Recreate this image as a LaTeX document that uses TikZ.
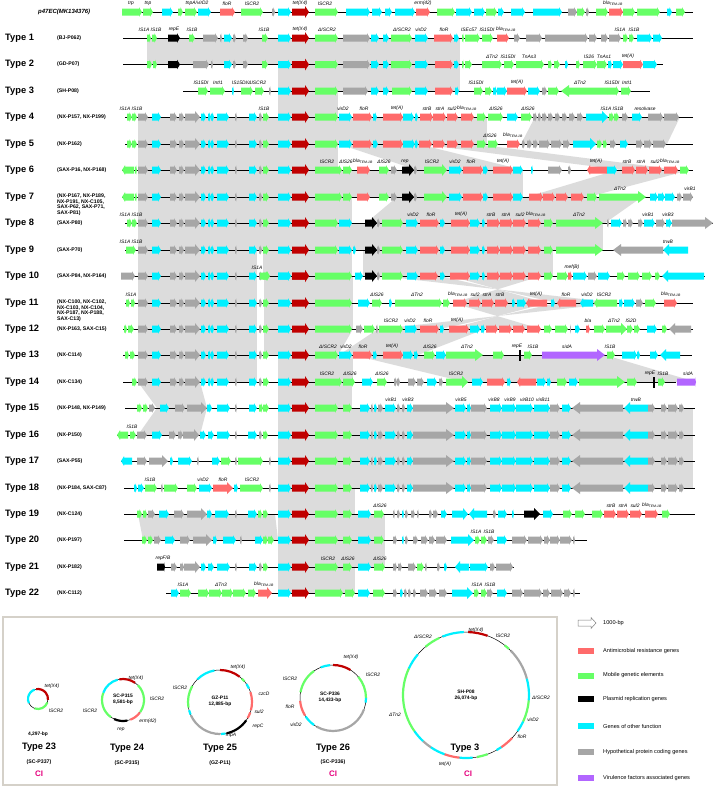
\documentclass[tikz,border=0pt]{standalone}
\usepackage{fontspec}
\setmainfont{Liberation Sans}
\definecolor{cA}{HTML}{FF6B6B}
\definecolor{cM}{HTML}{66FF66}
\definecolor{cO}{HTML}{00F0FF}
\definecolor{cH}{HTML}{A6A6A6}
\definecolor{cT}{HTML}{C00000}
\definecolor{cV}{HTML}{B266FF}
\definecolor{shd}{HTML}{DCDCDC}
\definecolor{cCI}{HTML}{E6007E}
\definecolor{frm}{HTML}{D5D1C9}
\def\ry{0}
\newcommand\setrow[1]{\def\ry{#1}}
\newcommand\gene[4][3]{%
  \pgfmathsetmacro\gd{ifthenelse(#4>#3,1,-1)}%
  \pgfmathsetmacro\gt{\gd*min(#1,abs(#4-#3)*0.5)}%
  \pgfmathsetmacro\gh{ifthenelse(#1>3,6,4.8)}%
  \fill[#2] (#3,\ry-3.5) -- ({#4-\gt},\ry-3.5) -- ({#4-\gt},\ry-\gh) -- (#4,\ry) -- ({#4-\gt},\ry+\gh) -- ({#4-\gt},\ry+3.5) -- (#3,\ry+3.5) -- cycle;}
\newcommand\gA[3][3]{\gene[#1]{cA}{#2}{#3}}
\newcommand\gM[3][3]{\gene[#1]{cM}{#2}{#3}}
\newcommand\gO[3][3]{\gene[#1]{cO}{#2}{#3}}
\newcommand\gH[3][3]{\gene[#1]{cH}{#2}{#3}}
\newcommand\gK[3][3]{\gene[#1]{black}{#2}{#3}}
\newcommand\gT[3][3]{\gene[#1]{cT}{#2}{#3}}
\newcommand\gV[3][3]{\gene[#1]{cV}{#2}{#3}}
\newcommand\vbarx[1]{\fill[black] (#1,\ry-5.5) rectangle ({#1+1.5},\ry+5.5);}
\newcommand\rl[2]{\draw[rowline] (#1,\ry) -- (#2,\ry);}
\newcommand\lb[2]{\node[lbl] at (#1,\ry-6) {#2};}
\newcommand\bla{bla\textsubscript{TEM-1B}}
\newcommand\sh[6]{\fill[shd] (#3,#1) -- (#4,#1) -- (#5,#2) -- (#6,#2) -- cycle;}
\newcommand\typ[3]{\node[tyl] at (5,#1) {Type #2}; \node[accl] at (57,#1) {#3};}
\newcommand\core{\gO{278}{291}\gT[4]{292}{309}}
\newcommand\bb{\gH{138}{148}\gO{152}{161}\gH{170}{177}\gH{179}{184}\gH[5]{185}{200}\gO{201}{206}\gO{208}{211}\gO{211}{214}\gO{217}{229}\gH{235}{237}\gO{249}{257}\gH{259}{262}\gM{263}{269}\core}
\newcommand\vb{\gM{343}{352}\gO{360}{370}\gH{371}{373}\gO{374}{377}\gH{378}{383}\gO{385}{396}\gH{397}{400}\gH{402}{405}\gO{407}{413}\gH[8]{413}{454}\gO{455}{466}\gO{467}{471}\gH{471}{487}\gO{490}{502}\gO{502}{516}\gO{516}{533}\gO{534}{550}\gH{550}{560}\gO{562}{571}\gH[8]{623}{572}\gO[6]{648}{624}\gH{648}{655}\gH{661}{667}\gH{668}{678}\gH{679}{684}}
\newcommand\carc[6]{\draw[#6, line width=2.2] ({#1+#3*cos(#4)},{#2-#3*sin(#4)}) arc[start angle=-#4, end angle=-#5, radius=#3];}
\tikzset{
  rowline/.style={line width=0.8, black},
  lbl/.style={anchor=south, inner sep=0, font=\fontsize{4.9}{5}\selectfont\itshape},
  clbl/.style={inner sep=0, font=\fontsize{4.9}{5}\selectfont\itshape},
  tyl/.style={anchor=west, inner sep=0, font=\fontsize{9.3}{10}\selectfont\bfseries},
  accl/.style={anchor=west, inner sep=0, font=\fontsize{5.2}{6}\selectfont\bfseries},
  accm/.style={anchor=north west, inner sep=0, align=left, font=\fontsize{5.2}{5.6}\selectfont\bfseries},
  ctxt/.style={inner sep=0, align=center, font=\fontsize{4.9}{5.8}\selectfont\bfseries},
  ctyp/.style={inner sep=0, font=\fontsize{9.3}{10}\selectfont\bfseries},
  cacc/.style={inner sep=0, font=\fontsize{5.2}{6}\selectfont\bfseries},
  cci/.style={inner sep=0, text=cCI, font=\fontsize{8}{9}\selectfont\bfseries},
  legt/.style={anchor=west, inner sep=0, font=\fontsize{5.6}{6}\selectfont},
}
\begin{document}
\begin{tikzpicture}[x=1pt,y=-1pt]
\useasboundingbox (0,0) rectangle (713,787);
\fill[white] (0,0) rectangle (713,787);
% ---------- shading ----------
\sh{38}{64.5}{147}{460}{460}{147}
\sh{64.5}{91}{278}{460}{460}{278}
\sh{91}{117}{278}{338}{338}{278}
\sh{117}{144}{138}{487}{487}{138}
\sh{117}{144}{535}{680}{667}{521}
\sh{144}{170}{138}{338}{338}{138}
\sh{144}{170}{339}{418}{523}{417}
\sh{144}{170}{419}{474}{680}{622}
\sh{170}{197}{138}{523}{523}{138}
\sh{170}{197}{617}{690}{588}{527}
\sh{197}{223}{138}{352}{352}{138}
\sh{197}{223}{397}{642}{605}{366}
\sh{223}{250}{138}{603}{603}{138}
\sh{250}{276}{138}{257}{257}{138}
\sh{250}{276}{263}{352}{352}{263}
\sh{250}{276}{363}{553}{553}{363}
\sh{276}{303}{138}{257}{257}{138}
\sh{276}{303}{264}{353}{353}{264}
\fill[shd] (381,276) -- (440,276) -- (557,303) -- (617,303) -- cycle;
\fill[shd] (450,276) -- (541,276) -- (453,303) -- (547,303) -- cycle;
\sh{303}{329}{138}{257}{257}{138}
\sh{303}{329}{264}{353}{353}{264}
\fill[shd] (453,303) -- (547,303) -- (449,329) -- (541,329) -- cycle;
\fill[shd] (557,303) -- (617,303) -- (379,329) -- (440,329) -- cycle;
\sh{329}{355}{138}{257}{257}{138}
\sh{329}{355}{264}{353}{338}{264}
\sh{329}{355}{378}{485}{418}{339}
\sh{355}{382}{138}{257}{257}{138}
\sh{355}{382}{278}{353}{353}{278}
\sh{355}{382}{353}{605}{696}{465}
\sh{382}{408}{138}{200}{207}{157}
\sh{382}{408}{278}{352}{352}{278}
\sh{408}{435}{157}{207}{200}{138}
\sh{408}{435}{278}{693}{693}{278}
\sh{435}{461}{278}{693}{693}{278}
\sh{461}{488}{278}{693}{693}{278}
\sh{488}{514}{278}{355}{355}{278}
\sh{514}{540}{138}{275}{278}{143}
\sh{514}{540}{278}{385}{385}{278}
\sh{540}{567}{278}{385}{385}{278}
\sh{567}{593}{278}{355}{355}{278}
% ---------- row 0 : p47EC ----------
\node[anchor=west, inner sep=0, font=\fontsize{6}{7}\selectfont\bfseries\itshape] (p47) at (38,12) {p47EC(MK134376)};
\setrow{12}\rl{122}{693}
\gM{122}{142}\gM{143}{153}\gO{162}{173}\gM{178}{183}\gM{185}{197}\gO{198}{211}\gA{220}{235}\gM{241}{263}\gH{272}{275}\core\gM{315}{338}\gO{346}{370}\gO{372}{382}\gO{385}{392}\gO{395}{415}\gA{416}{430}\gM{437}{455}\gO{456}{472}\gO{474}{485}\gM{486}{497}\gO{498}{504}\gO{511}{525}\gO{533}{562}\gH{568}{577}\gM{577}{585}\gH{586}{589}\gM{596}{608}\gA{609}{623}\gM{623}{635}\gM{637}{660}\gO{667}{672}\gM{676}{685}
\lb{131}{trp}\lb{148}{tnp}\lb{197}{tnpA/virD2}\lb{227}{floR}\lb{252}{ISCR2}\lb{300}{tet(X4)}\lb{325}{ISCR2}\lb{423}{erm(42)}\lb{613}{\bla}
% ---------- row 1 ----------
\typ{38}{1}{(BJ-P062)}
\setrow{38}\rl{123}{693}
\gM{147}{151}\gM{152}{157}\gK{168}{180}\gM{189}{195}\gH{203}{218}\gH{220}{222}\gO{224}{232}\gH{233}{236}\gH{243}{248}\gM{262}{268}\core\gM{315}{338}\gH{343}{370}\gO{371}{379}\gO{383}{389}\gM{391}{412}\gO{415}{428}\gA{434}{453}\gO{454}{459}\gM{462}{464}\gM{465}{480}\gM{482}{493}\gA{497}{509}\gH{514}{520}\gH{526}{542}\gH{545}{588}\gH{589}{597}\gH{601}{608}\gH{609}{621}\gM{623}{628}\gM{629}{634}\gO{637}{652}\gO{653}{662}
\lb{144}{IS1A}\lb{156}{IS1B}\lb{174}{repE}\lb{192}{IS1B}\lb{264}{IS1B}\lb{300}{tet(X4)}\lb{327}{ΔISCR2}\lb{402}{ΔISCR2}\lb{421}{virD2}\lb{444}{floR}\lb{469}{ISEc57}\lb{487}{IS15DI}\lb{506}{\bla}\lb{620}{IS1A}\lb{634}{IS1B}
% ---------- row 2 ----------
\typ{64.5}{2}{(GD-P07)}
\setrow{64.5}\rl{123}{663}
\gM{147}{152}\gM{153}{157}\gK{168}{180}\gH{193}{209}\gH{211}{213}\gO{224}{232}\gH{233}{236}\gH{243}{248}\gM{262}{268}\core\gM{315}{338}\gH{343}{370}\gO{371}{379}\gO{383}{389}\gM{391}{412}\gO{415}{428}\gA{435}{453}\gO{454}{459}\gM{462}{464}\gM{465}{472}\gM{482}{502}\gM{504}{514}\gM{516}{544}\gM{548}{552}\gM{554}{560}\gO{565}{568}\gM{576}{580}\gM{583}{597}\gM{597}{607}\gO{608}{612}\gO{613}{623}\gA{623}{643}\gO{643}{657}
\lb{492}{ΔTn2}\lb{508}{IS15DI}\lb{529}{TnAs3}\lb{589}{IS26}\lb{604}{TnAs1}\lb{628}{tet(A)}
% ---------- row 3 ----------
\typ{91}{3}{(SH-P08)}
\setrow{91}\rl{183}{650}
\gM{198}{208}\gM{210}{225}\gO{232}{234}\gM{241}{253}\gM{255}{264}\gH{269}{271}\core\gM{315}{338}\gH{343}{368}\gO{371}{379}\gO{383}{389}\gM{392}{412}\gO{415}{428}\gA{435}{453}\gO{455}{459}\gM{474}{483}\gM{485}{492}\gO{493}{497}\gO{497}{507}\gA{507}{527}\gO{528}{540}\gH{542}{547}\gM{548}{559}\gM[8]{607}{561}\gM{607}{619}\gM{621}{631}
\lb{201}{IS15DI}\lb{218}{IntI1}\lb{249}{IS15DI/ΔISCR2}\lb{476}{IS15DI}\lb{517}{tet(A)}\lb{580}{ΔTn2}\lb{612}{IS15DI}\lb{627}{IntI1}
% ---------- row 4 ----------
\typ{117}{4}{(NX-P157, NX-P199)}
\setrow{117}\rl{125}{693}
\gM{127}{132}\gM{132}{137}\bb\gM{315}{338}\gO{339}{352}\gA{353}{372}\gO{373}{377}\gA{383}{403}\gO{403}{414}\gO{415}{418}\gA{420}{433}\gA{433}{446}\gA{447}{458}\gA{461}{474}\gM{477}{486}\gM{488}{503}\gO{507}{518}\gM{521}{532}\gH{533}{537}\gH{538}{541}\gH{542}{547}\gH{548}{553}\gH{555}{560}\gH{562}{567}\gH{569}{575}\gH{577}{583}\gO[6]{586}{608}\gM{609}{614}\gM{614}{619}\gH{622}{628}\gO{632}{642}\gH{648}{663}\gH{664}{679}
\lb{131}{IS1A IS1B}\lb{264}{IS1B}\lb{343}{virD2}\lb{364}{floR}\lb{397}{tet(A)}\lb{427}{strB}\lb{440}{strA}\lb{452}{sul2}\lb{467}{\bla}\lb{496}{ΔIS26}\lb{528}{ΔIS26}\lb{612}{IS1A IS1B}\lb{645}{resolvase}
% ---------- row 5 ----------
\typ{144}{5}{(NX-P162)}
\setrow{144}\rl{125}{693}
\gM{127}{132}\gM{132}{137}\bb\gM{315}{338}\gO{339}{352}\gA{353}{372}\gO{373}{378}\gA{383}{403}\gO{403}{415}\gO{415}{418}\gA{419}{432}\gA{433}{445}\gA{447}{458}\gA{461}{474}\gM{477}{486}\gM{488}{498}\gA{507}{520}\gH{522}{525}\gH{527}{532}\gH{533}{538}\gH{539}{550}\gH{551}{562}\gH{563}{570}\gO[6]{573}{596}\gM{597}{602}\gM{603}{607}\gH{610}{616}\gO{620}{628}\gH{636}{643}\gH{644}{652}\gH{653}{666}
\lb{490}{ΔIS26}\lb{513}{\bla}
% ---------- row 6 ----------
\typ{170}{6}{(SAX-P16, NX-P168)}
\setrow{170}\rl{122}{693}
\gM{134}{122}\gM{135}{137}\bb\gM{315}{342}\gM{343}{352}\gA{357}{370}\gM{379}{389}\gH{391}{397}\gK[5]{402}{414}\gH{414}{417}\gM[5]{424}{447}\gO{449}{462}\gA{463}{483}\gO{483}{488}\gA{493}{513}\gO{513}{523}\gO{531}{533}\gH{548}{562}\gH{568}{571}\gA{607}{587}\gO{607}{617}\gA{622}{635}\gA{636}{648}\gA{649}{662}\gA{664}{678}\gM{680}{689}
\lb{327}{ISCR2}\lb{346}{ΔIS26}\lb{363}{\bla}\lb{384}{ΔIS26}\lb{405}{rep}\lb{432}{ISCR2}\lb{455}{virD2}\lb{471}{floR}\lb{503}{tet(A)}\lb{596}{tet(A)}\lb{627}{strB}\lb{641}{strA}\lb{655}{sul2}\lb{670}{\bla}
% ---------- row 7 ----------
\node[tyl] at (5,197) {Type 7};
\node[accm] at (57,193.5) {(NX-P167, NX-P189,\\NX-P191, NX-C105,\\SAX-P62, SAX-P71,\\SAX-P81)};
\setrow{197}\rl{122}{693}
\gM{134}{122}\gM{135}{137}\bb\gM{315}{342}\gM{343}{352}\gA{357}{370}\gM{379}{389}\gH{391}{397}\gK[5]{402}{414}\gH{414}{417}\gM[5]{424}{447}\gO{449}{462}\gA{463}{483}\gO{483}{488}\gA{493}{513}\gO{513}{523}\gA{529}{543}\gA{543}{555}\gA{556}{568}\gA{571}{584}\gM{587}{597}\gM[8]{599}{646}\gO{650}{658}\gO{658}{665}\gO{665}{675}\gH{677}{682}\gH{683}{693}
\lb{620}{ΔTn2}\lb{690}{virB1}
% ---------- row 8 ----------
\typ{223}{8}{(SAX-P80)}
\setrow{223}\rl{125}{713}
\gM{127}{132}\gM{132}{137}\bb\gM{315}{338}\gO{339}{352}\gK[5]{365}{377}\gH{377}{380}\gM{382}{403}\gO{406}{418}\gA{420}{439}\gO{440}{445}\gA{451}{470}\gO{470}{480}\gO{482}{485}\gA{487}{500}\gA{500}{513}\gA{513}{526}\gA{528}{541}\gM{544}{553}\gM[8]{556}{603}\gH{607}{609}\gO{611}{622}\gH{623}{627}\gH{628}{633}\gH{638}{643}\gO{644}{655}\gH{656}{665}\gO{666}{672}\gH[8]{672}{713}
\lb{131}{IS1A IS1B}\lb{413}{virD2}\lb{431}{floR}\lb{461}{tet(A)}\lb{491}{strB}\lb{506}{strA}\lb{520}{sul2}\lb{536}{\bla}\lb{579}{ΔTn2}\lb{648}{virB1}\lb{668}{virB3}
% ---------- row 9 ----------
\typ{250}{9}{(SAX-P70)}
\setrow{250}\rl{125}{688}
\gM{126}{136}\bb\gM{315}{338}\gO{339}{352}\gO{353}{356}\gK[5]{365}{377}\gH{377}{380}\gM{382}{403}\gO{406}{418}\gA{420}{439}\gO{440}{445}\gA{451}{470}\gO{470}{480}\gO{482}{485}\gA{487}{500}\gA{500}{513}\gA{513}{526}\gA{528}{541}\gM{544}{553}\gM[8]{556}{603}\gH[8]{663}{613}\gO[6]{688}{663}
\lb{131}{IS1A IS1B}\lb{668}{trwB}
% ---------- row 10 ----------
\typ{276}{10}{(SAX-P84, NX-P164)}
\setrow{276}\rl{121}{705}
\gH{121}{135}\bb\gM{260}{270}\core\gM{315}{352}\gO{355}{363}\gK[5]{365}{377}\gH{377}{380}\gM{382}{403}\gO{407}{418}\gA{420}{438}\gO{440}{445}\gA{450}{470}\gO{470}{480}\gO{482}{485}\gA{487}{500}\gA{500}{513}\gA{513}{526}\gA{528}{541}\gM{544}{553}\gM{557}{568}\gA{568}{572}\gO{573}{587}\gH{588}{597}\gO{598}{610}\gM{617}{625}\gM{628}{640}\gM{642}{652}\gM{655}{660}\gO[6]{704}{662}
\lb{257}{IS1A}\lb{572}{mef(B)}
% ---------- row 11 ----------
\node[tyl] at (5,303) {Type 11};
\node[accm] at (57,299.5) {(NX-C100, NX-C102,\\NX-C103, NX-C104,\\NX-P187, NX-P188,\\SAX-C13)};
\setrow{303}\rl{125}{693}
\gM{126}{130}\gM{131}{135}\bb\gM{315}{352}\gO{358}{370}\gM{372}{382}\gO{389}{392}\gM{395}{442}\gM{443}{450}\gA{453}{467}\gA{469}{481}\gA{482}{494}\gA{495}{508}\gO{512}{515}\gO{517}{526}\gA{547}{526}\gO{551}{555}\gA{576}{557}\gO{593}{580}\gM{617}{594}\gO{619}{623}\gO{624}{635}\gH{636}{643}\gM{645}{656}\gA{664}{677}
\lb{131}{IS1A}\lb{377}{ΔIS26}\lb{417}{ΔTn2}\lb{458}{\bla}\lb{475}{sul2}\lb{487}{strA}\lb{500}{strB}\lb{536}{tet(A)}\lb{566}{floR}\lb{587}{virD2}\lb{604}{ISCR2}\lb{671}{\bla}
% ---------- row 12 ----------
\typ{329}{12}{(NX-P163, SAX-C15)}
\setrow{329}\rl{123}{693}
\gM{124}{127}\gM{128}{134}\bb\gM{315}{352}\gH{356}{363}\gM{364}{375}\gH{376}{378}\gM{379}{403}\gO{405}{417}\gA{420}{439}\gO{440}{444}\gA{449}{469}\gO{470}{480}\gO{481}{485}\gA{486}{498}\gA{499}{512}\gA{513}{525}\gA{527}{541}\gM{544}{552}\gM{555}{568}\gH{570}{571}\gO{575}{580}\gA{586}{590}\gM{594}{605}\gM[6]{606}{627}\gM{627}{633}\gM{634}{640}\gO{647}{657}\gM{662}{667}\gH[6]{691}{669}
\lb{391}{ISCR2}\lb{410}{virD2}\lb{428}{floR}\lb{457}{tet(A)}\lb{588}{bla}\lb{614}{ΔTn2}\lb{631}{IS2D}
% ---------- row 13 ----------
\typ{355}{13}{(NX-C114)}
\setrow{355}\rl{123}{692}
\gM{125}{129}\gM{130}{135}\bb\gM{315}{338}\gO{339}{352}\gA{353}{372}\gO{373}{377}\gA{383}{403}\gO{403}{413}\gO{414}{418}\gM{424}{435}\gO{436}{446}\gM[8]{446}{483}\gM{493}{504}\vbarx{519}\gM{524}{532}\gV[8]{542}{605}\gM{607}{615}\gO{622}{637}\gO{637}{640}\gO{650}{658}\gO[6]{680}{660}
\lb{328}{ΔISCR2}\lb{346}{virD2}\lb{363}{floR}\lb{392}{tet(A)}\lb{430}{ΔIS26}\lb{467}{ΔTn2}\lb{517}{repE}\lb{533}{IS1B}\lb{567}{sidA}\lb{610}{IS1B}
% ---------- row 14 ----------
\typ{382}{14}{(NX-C134)}
\setrow{382}\rl{123}{676}
\gM{132}{137}\bb\gM{315}{342}\gM{343}{355}\gO{362}{373}\gM{377}{387}\gH{394}{397}\gH{397}{400}\gH{408}{416}\gH{417}{424}\gO{427}{437}\gH{439}{443}\gM[6]{446}{468}\gO{472}{483}\gA{487}{505}\gO{507}{511}\gA{536}{517}\gO{537}{546}\gO{547}{551}\gM{557}{567}\gO{569}{578}\gM[8]{579}{625}\gM{627}{637}\vbarx{653}\gM{658}{665}\gV[1]{677}{696}
\lb{327}{ISCR2}\lb{350}{ΔIS26}\lb{382}{ΔIS26}\lb{456}{ISCR2}\lb{650}{repE}\lb{663}{IS1B}\lb{688}{sidA}
% ---------- row 15 ----------
\typ{408}{15}{(NX-P148, NX-P149)}
\setrow{408}\rl{125}{695}
\gM{137}{142}\gM{143}{148}\gH{149}{155}\gO{160}{169}\gH{175}{185}\gH[6]{187}{207}\gO{207}{212}\gO{217}{230}\gH{235}{237}\gO{249}{257}\gM{259}{263}\gM{263}{269}\core\gM{315}{338}\vb
\lb{391}{virB1}\lb{408}{virB3}\lb{461}{virB5}\lb{494}{virB8}\lb{510}{virB9}\lb{527}{virB10}\lb{543}{virB11}\lb{636}{trwB}
% ---------- row 16 ----------
\typ{435}{16}{(NX-P150)}
\setrow{435}\rl{117}{695}
\gM{128}{117}\gM{130}{136}\gH{137}{147}\gO{152}{162}\gH{169}{176}\gH{178}{183}\gH[5]{183}{199}\gO{200}{206}\gO{208}{214}\gO{217}{230}\gH{235}{237}\gO{248}{257}\gH{259}{262}\gM{263}{268}\core\gM{315}{338}\vb
\lb{132}{IS1B}
% ---------- row 17 ----------
\typ{461}{17}{(SAX-P55)}
\setrow{461}\rl{121}{695}
\gO{132}{121}\gH{137}{147}\gH[6]{149}{168}\gO{170}{173}\gO{178}{192}\gH{197}{199}\gO{212}{220}\gM{221}{231}\gH{235}{237}\gM{238}{263}\gH{269}{271}\core\gM{315}{338}\vb
% ---------- row 18 ----------
\typ{488}{18}{(NX-P184, SAX-C87)}
\setrow{488}\rl{124}{695}
\gO{134}{137}\gO{138}{144}\gM{145}{157}\gH{161}{163}\gM{164}{178}\gM{187}{197}\gO{199}{212}\gA[6]{213}{233}\gO{234}{238}\gM{240}{263}\gH{269}{271}\core\gM{315}{338}\vb
\lb{150}{IS1B}\lb{203}{virD2}\lb{223}{floR}\lb{252}{ISCR2}
% ---------- row 19 ----------
\typ{514}{19}{(NX-C124)}
\setrow{514}\rl{124}{695}
\gM{137}{142}\gM{143}{147}\gH{148}{155}\gO{159}{169}\gH{174}{184}\gH[6]{187}{207}\gO{207}{212}\gO{215}{229}\gH{235}{237}\gO{248}{257}\gM{258}{262}\gM{263}{268}\core\gM{315}{338}\gM{343}{352}\gO{358}{371}\gM{374}{384}\gH{393}{395}\gH{397}{400}\gO{402}{404}\gH{405}{408}\gH{411}{415}\gH{417}{419}\gH{429}{432}\gH{433}{438}\gO{441}{447}\gO[5]{452}{468}\gO[5]{487}{469}\gH{493}{496}\gO{498}{507}\gO{512}{514}\gK[6]{524}{540}\gO{543}{553}\gM{563}{572}\gM{575}{585}\gM{592}{603}\gA{604}{616}\gA{617}{629}\gA{630}{642}\gA{645}{658}\gM{662}{670}
\lb{380}{ΔIS26}\lb{611}{strB}\lb{623}{strA}\lb{635}{sul2}\lb{652}{\bla}
% ---------- row 20 ----------
\typ{540}{20}{(NX-P197)}
\setrow{540}\rl{124}{587}
\gM{142}{147}\gM{148}{153}\gH{154}{161}\gO{165}{175}\gH{180}{190}\gH[6]{193}{212}\gO{213}{217}\gO{223}{236}\gH{240}{242}\gO{255}{263}\gM{263}{268}\gM{268}{274}\core\gM{315}{338}\gM{343}{352}\gO{358}{371}\gM{374}{384}\gH{393}{397}\gO{402}{404}\gH{405}{408}\gH{413}{418}\gH{421}{428}\gH{429}{435}\gH{436}{447}\gO[6]{451}{474}\gM{475}{480}\gM{481}{487}\gH{488}{494}\gO{497}{507}\gH{512}{527}\gH{528}{543}\gH{544}{550}\gH{550}{560}\gH{560}{572}\gH{573}{575}
\lb{476}{IS1A}\lb{489}{IS1B}
% ---------- row 21 ----------
\typ{567}{21}{(NX-P182)}
\setrow{567}\rl{157}{514}
\gK[1]{157}{165}\gH{171}{177}\gH{180}{184}\gH[5]{184}{200}\gO{201}{206}\gO{208}{214}\gO{217}{230}\gH{235}{237}\gO{249}{257}\gH{259}{262}\gM{263}{268}\core\gM{315}{338}\gM{343}{352}\gO{358}{371}\gM{374}{385}\gH{393}{397}\gH{398}{402}\gH{408}{416}\gM{417}{424}\gH{425}{427}\gH{437}{440}\gO{444}{447}\gO[5]{469}{455}\gO{470}{488}\gH{490}{495}\gH{496}{513}
\lb{163}{repF/B}\lb{328}{ISCR2}\lb{348}{ΔIS26}\lb{380}{ΔIS26}
% ---------- row 22 ----------
\typ{593}{22}{(NX-C112)}
\setrow{593}\rl{166}{580}
\gO{171}{179}\gM{180}{191}\gM{198}{209}\gM{209}{222}\gM{222}{233}\gM{233}{246}\gM{248}{256}\gA[5]{258}{272}\core\gM{315}{343}\gM{345}{355}\gO{358}{370}\gM{373}{385}\gH{393}{397}\gO{400}{403}\gH{404}{407}\gH{408}{411}\gH{413}{416}\gH{420}{428}\gH{429}{437}\gH{439}{447}\gO[6]{452}{473}\gM{474}{479}\gM{481}{487}\gH{487}{493}\gO{497}{507}\gH{512}{523}\gH{524}{542}\gH{543}{550}\gH{551}{563}\gH{564}{571}\gH{573}{575}
\lb{183}{IS1A}\lb{221}{ΔTn3}\lb{264}{\bla}\lb{477}{IS1A}\lb{490}{IS1B}
% ---------- bottom panel ----------
\draw[frm, line width=1.8] (3,617) rectangle (557,785);
% Type 23
\draw[line width=0.5] (38,699) circle[radius=10];
\carc{38}{699}{10}{100}{-5}{cT}
\carc{38}{699}{10}{110}{205}{cO}
\carc{38}{699}{10}{-20}{-110}{cM}
\node[clbl] at (52,686) {tet(X4)};
\node[clbl] at (56,711) {ISCR2};
\node[ctxt] at (38,734) {4,297-bp};
\node[ctyp] at (39,747) {Type 23};
\node[cacc] at (39,762) {(SC-P337)};
\node[cci] at (39,774) {CI};
% Type 24
\draw[line width=0.5] (123,700) circle[radius=21];
\carc{123}{700}{21}{105}{160}{cO}
\carc{123}{700}{21}{55}{100}{cT}
\carc{123}{700}{21}{-35}{45}{cM}
\carc{123}{700}{21}{-70}{-37}{cA}
\carc{123}{700}{21}{-115}{-78}{black}
\carc{123}{700}{21}{160}{235}{cM}
\node[ctxt] at (123,699) {SC-P315\\8,581-bp};
\node[clbl] at (136,678) {tet(X4)};
\node[clbl] at (157,699) {ISCR2};
\node[clbl] at (90,711) {ISCR2};
\node[clbl] at (148,721) {erm(42)};
\node[clbl] at (121,730) {rep};
\node[ctyp] at (127,748) {Type 24};
\node[cacc] at (127,763) {(SC-P315)};
% Type 25
\draw[line width=0.5] (220,702) circle[radius=32];
\carc{220}{702}{32}{100}{135}{cO}
\carc{220}{702}{32}{52}{90}{cT}
\carc{220}{702}{32}{40}{47}{cM}
\carc{220}{702}{32}{25}{34}{cO}
\carc{220}{702}{32}{18}{-15}{cA}
\carc{220}{702}{32}{-19}{-30}{cA}
\carc{220}{702}{32}{-35}{-78}{black}
\carc{220}{702}{32}{-80}{-88}{cO}
\carc{220}{702}{32}{-90}{-155}{cH}
\carc{220}{702}{32}{195}{203}{cO}
\carc{220}{702}{32}{150}{190}{cM}
\node[ctxt] at (220,701) {GZ-P11\\12,885-bp};
\node[clbl] at (238,667) {tet(X4)};
\node[clbl] at (180,688) {ISCR2};
\node[clbl] at (264,694) {czcD};
\node[clbl] at (259,712) {sul2};
\node[clbl] at (258,726) {repC};
\node[clbl] at (231,735) {mpA};
\node[ctyp] at (220,748) {Type 25};
\node[cacc] at (220,763) {(GZ-P11)};
% Type 26
\draw[line width=0.5] (333,698) circle[radius=33];
\carc{333}{698}{33}{95}{112}{cO}
\carc{333}{698}{33}{58}{90}{cT}
\carc{333}{698}{33}{0}{40}{cM}
\carc{333}{698}{33}{-8}{0}{cO}
\carc{333}{698}{33}{-20}{-120}{cH}
\carc{333}{698}{33}{125}{170}{cM}
\carc{333}{698}{33}{185}{212}{cA}
\carc{333}{698}{33}{214}{235}{cO}
\node[ctxt] at (330,697) {SC-P336\\14,433-bp};
\node[clbl] at (351,657) {tet(X4)};
\node[clbl] at (290,679) {ISCR2};
\node[clbl] at (373,675) {ISCR2};
\node[clbl] at (290,707) {floR};
\node[clbl] at (296,725) {virD2};
\node[ctyp] at (333,748) {Type 26};
\node[cacc] at (333,762) {(SC-P336)};
\node[cci] at (333,774) {CI};
% Type 3 circle
\draw[line width=0.5] (466,695) circle[radius=63];
\carc{466}{695}{63}{88}{70}{cT}
\carc{466}{695}{63}{52}{47}{cM}
\carc{466}{695}{63}{45}{15}{cH}
\carc{466}{695}{63}{15}{-5}{cO}
\carc{466}{695}{63}{-5}{-25}{cM}
\carc{466}{695}{63}{-25}{-35}{cO}
\carc{466}{695}{63}{-43}{-56}{cA}
\carc{466}{695}{63}{-56}{-61}{cO}
\carc{466}{695}{63}{-70}{-80}{cM}
\carc{466}{695}{63}{-84}{-96}{cO}
\carc{466}{695}{63}{-96}{-110}{cA}
\carc{466}{695}{63}{-110}{-124}{cO}
\carc{466}{695}{63}{-124}{-133}{cH}
\carc{466}{695}{63}{-133}{-145}{cO}
\carc{466}{695}{63}{-145}{-205}{cM}
\carc{466}{695}{63}{155}{140}{cO}
\carc{466}{695}{63}{130}{115}{cM}
\carc{466}{695}{63}{112}{92}{cO}
\node[ctxt] at (466,695) {SH-P08\\26,074-bp};
\node[clbl] at (476,630) {tet(X4)};
\node[clbl] at (423,637) {ΔISCR2};
\node[clbl] at (503,636) {ISCR2};
\node[clbl] at (541,698) {ΔISCR2};
\node[clbl] at (533,720) {virD2};
\node[clbl] at (522,737) {floR};
\node[clbl] at (445,764) {tet(A)};
\node[clbl] at (395,715) {ΔTn2};
\node[ctyp] at (465,748) {Type 3};
\node[cci] at (468,774) {CI};
% ---------- legend ----------
\draw[gray, line width=0.5, fill=white] (578,620) -- (591,620) -- (591,617.5) -- (596,623) -- (591,628.5) -- (591,626) -- (578,626) -- cycle;
\node[legt] at (603,623) {1000-bp};
\fill[cA] (578,648) rectangle (594,654); \node[legt] at (603,651) {Antimicrobial resistance genes};
\fill[cM] (578,672.5) rectangle (594,678.5); \node[legt] at (603,675.5) {Mobile genetic elements};
\fill[black] (578,696) rectangle (594,702); \node[legt] at (603,699) {Plasmid replication genes};
\fill[cO] (578,723) rectangle (594,729); \node[legt] at (603,726) {Genes of other function};
\fill[cH] (578,749) rectangle (594,755); \node[legt] at (603,752) {Hypothetical protein coding genes};
\fill[cV] (578,775) rectangle (594,781); \node[legt] at (603,778) {Virulence factors associated genes};
\end{tikzpicture}
\end{document}
